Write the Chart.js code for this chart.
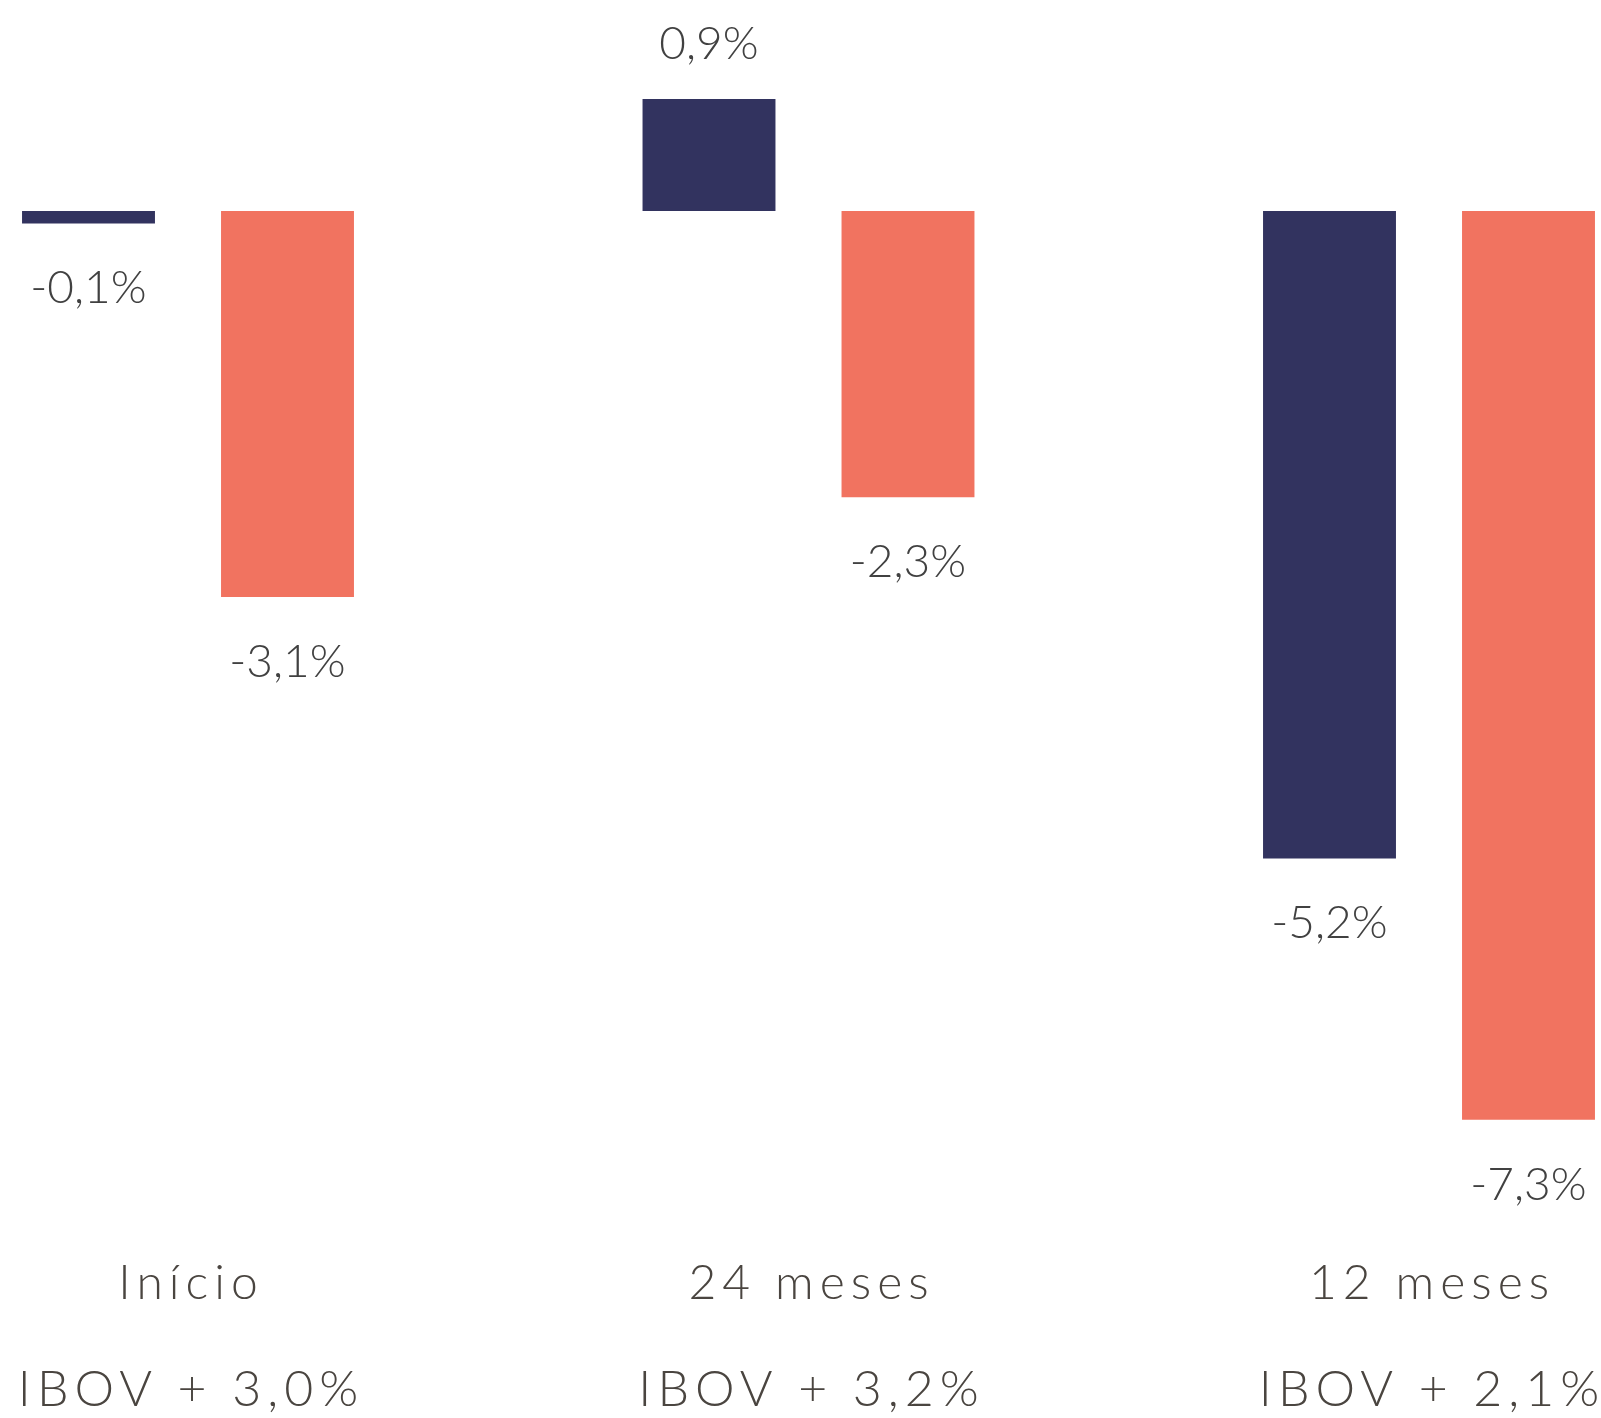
<!DOCTYPE html>
<html>
<head>
<meta charset="utf-8">
<script src="https://cdn.jsdelivr.net/npm/chart.js@4.4.1/dist/chart.umd.min.js"></script>
<style>
  html, body { margin: 0; padding: 0; background: #ffffff; }
  #wrap { width: 1601px; height: 1418px; position: relative; }
</style>
</head>
<body>
<div id="wrap"><canvas id="retornoChart"></canvas></div>
<script>
// dados
const categorias = ["Início", "24 meses", "12 meses"];
const benchmarks = ["IBOV + 3,0%", "IBOV + 3,2%", "IBOV + 2,1%"];
const fundo = [-0.1, 0.9, -5.2];
const ibov = [-3.1, -2.3, -7.3];

const azul = "#32335f";
const coral = "#f17360";
const cinzaEixo = "#4a4540";

const formata = (v) => v.toFixed(1).replace(".", ",") + "%";

// espaçamento entre letras só nos rótulos dos eixos
const espacamento = {
  id: "espacamento",
  beforeDraw(chart) {
    chart.ctx.save();
    chart.ctx.letterSpacing = "6px";
    chart.ctx.translate(3, 0);
  },
  beforeDatasetsDraw(chart) {
    chart.ctx.restore();
  }
};

// valores em cima/embaixo de cada barra
const rotulosValores = {
  id: "rotulosValores",
  afterDatasetsDraw(chart) {
    const ctx = chart.ctx;
    ctx.save();
    ctx.letterSpacing = "0px";
    ctx.font = "300 46px Lato";
    ctx.fillStyle = "#414141";
    ctx.textAlign = "center";
    ctx.textBaseline = "middle";
    chart.data.datasets.forEach((ds, i) => {
      chart.getDatasetMeta(i).data.forEach((bar, j) => {
        const v = ds.data[j];
        const y = v < 0 ? bar.y + 65 : bar.y - 55;
        ctx.fillText(formata(v), bar.x, y);
      });
    });
    ctx.restore();
  }
};

const ctx = document.getElementById("retornoChart");

new Chart(ctx, {
  type: "bar",
  data: {
    labels: categorias,
    datasets: [
      {
        label: "Fundo",
        data: fundo,
        backgroundColor: azul,
        borderWidth: 0,
        clip: false,
        xAxisID: "x",
      },
      {
        label: "IBOV",
        data: ibov,
        backgroundColor: coral,
        borderWidth: 0,
        clip: false,
        xAxisID: "x",
      },
    ],
  },
  options: {
    responsive: true,
    maintainAspectRatio: false,
    animation: false,
    categoryPercentage: 0.6414,
    barPercentage: 0.668,
    layout: {
      padding: { left: 188, right: 172, top: 20, bottom: 2 },
    },
    plugins: {
      legend: { display: false },
      title: { display: false },
      tooltip: { enabled: false },
    },
    scales: {
      x: {
        offset: false,
        weight: 0,
        grid: { display: false, drawTicks: false },
        border: { display: false },
        ticks: {
          autoSkip: false,
          maxRotation: 0,
          minRotation: 0,
          padding: 56,
          color: cinzaEixo,
          font: { family: "Lato", size: 48, weight: 300, lineHeight: 1 },
        },
      },
      x2: {
        type: "category",
        labels: benchmarks,
        position: "bottom",
        offset: false,
        weight: 1,
        grid: { display: false, drawTicks: false },
        border: { display: false },
        ticks: {
          autoSkip: false,
          maxRotation: 0,
          minRotation: 0,
          padding: 1,
          color: cinzaEixo,
          font: { family: "Lato", size: 50, weight: 300, lineHeight: 1 },
        },
      },
      y: {
        display: false,
        min: -7.976,
        max: 1.534,
      },
    },
  },
  plugins: [espacamento, rotulosValores],
});
</script>
</body>
</html>
